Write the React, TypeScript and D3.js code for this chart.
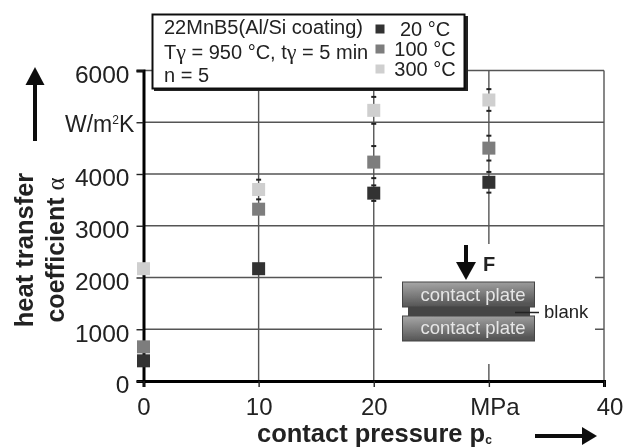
import React, { useEffect, useRef } from 'react';
import * as d3 from 'd3';

const pressures = [0, 10, 20, 30];
const yTicks = [0, 1000, 2000, 3000, 4000, 5000, 6000];
const xTicks = [0, 10, 20, 30, 40];
const xTickLabels = ['0', '10', '20', 'MPa', '40'];

const temps = ['20 °C', '100 °C', '300 °C'];
const colors = ['#333333', '#7d7d7d', '#cfcfcf'];

const alpha20 = [390, 2170, 3630, 3840];
const alpha100 = [660, 3320, 4230, 4500];
const alpha300 = [2170, 3700, 5230, 5430];

const err20 = [0, 0, 150, 200];
const err100 = [0, 0, 310, 240];
const err300 = [0, 190, 260, 210];

const FONT = '"Liberation Sans", Arial, sans-serif';

export default function App() {
  const ref = useRef<SVGSVGElement>(null);

  useEffect(() => {
    const svg = d3.select(ref.current);
    svg.selectAll('*').remove();

    const x = d3.scaleLinear().domain([0, 40]).range([143.5, 604]);
    const y = d3.scaleLinear().domain([0, 6000]).range([381, 70.5]);

    const defs = svg.append('defs');
    defs.append('filter').attr('id', 'soft')
      .attr('x', '-5%').attr('y', '-5%').attr('width', '110%').attr('height', '110%')
      .append('feGaussianBlur').attr('stdDeviation', 0.45);
    const grad = defs.append('linearGradient').attr('id', 'plate')
      .attr('x1', 0).attr('x2', 0.15).attr('y1', 0).attr('y2', 1);
    grad.append('stop').attr('offset', '0%').attr('stop-color', '#a8a8a8');
    grad.append('stop').attr('offset', '100%').attr('stop-color', '#545454');

    const root = svg.append('g').attr('filter', 'url(#soft)').style('font-family', FONT);
    root.append('rect').attr('width', 624).attr('height', 448).attr('fill', '#fff');

    // grid
    root.append('g').selectAll('line').data(yTicks.slice(1)).join('line')
      .attr('x1', x(0)).attr('x2', x(40))
      .attr('y1', d => y(d)).attr('y2', d => y(d))
      .attr('stroke', '#555').attr('stroke-width', 1.4);
    root.append('g').selectAll('line').data(xTicks.slice(1)).join('line')
      .attr('x1', d => x(d)).attr('x2', d => x(d))
      .attr('y1', y(0)).attr('y2', y(6000))
      .attr('stroke', '#555').attr('stroke-width', 1.4);

    // error bars
    const series = [
      { vals: alpha20, errs: err20, color: colors[0] },
      { vals: alpha100, errs: err100, color: colors[1] },
      { vals: alpha300, errs: err300, color: colors[2] },
    ];
    series.forEach(s => {
      const pts = pressures.map((p, i) => ({ p, v: s.vals[i], e: s.errs[i] })).filter(d => d.e > 0);
      [1, -1].forEach(sign => {
        root.append('g').selectAll('path').data(pts).join('path')
          .attr('d', d => {
            const cy = y(d.v + sign * d.e);
            return `M${x(d.p) - 2.5},${cy}H${x(d.p) + 2.5}`;
          })
          .attr('stroke', '#222').attr('stroke-width', 2);
      });
    });

    // axes
    const axisY = d3.axisLeft(y).tickValues(yTicks).tickSize(7)
      .tickFormat(d => (d === 5000 ? '' : String(d)));
    const gy = root.append('g').attr('transform', `translate(${x(0)},0)`).call(axisY);
    gy.select('.domain').attr('stroke', '#000').attr('stroke-width', 3);
    gy.selectAll('.tick line').attr('stroke', '#222').attr('stroke-width', 1.4);
    gy.selectAll('text').attr('x', -14).attr('y', 3).attr('dy', '0.36em')
      .attr('fill', '#222').style('font-family', FONT).style('font-size', '24.5px');

    const axisX = d3.axisBottom(x).tickValues(xTicks).tickSize(6)
      .tickFormat((_, i) => xTickLabels[i]);
    const gx = root.append('g').attr('transform', `translate(0,${y(0)})`).call(axisX);
    gx.select('.domain').attr('stroke', '#000').attr('stroke-width', 3);
    gx.selectAll('.tick line').attr('stroke', '#222').attr('stroke-width', 1.4);
    gx.selectAll('text').attr('y', 17).attr('dy', '0.71em')
      .attr('dx', (_, i) => (i >= 3 ? 5.5 : 0))
      .attr('fill', '#222').style('font-family', FONT).style('font-size', '24px');

    // markers
    const size = 13;
    series.forEach(s => {
      root.append('g').selectAll('rect').data(pressures).join('rect')
        .attr('x', d => x(d) - size / 2)
        .attr('y', (_, i) => y(s.vals[i]) - size / 2)
        .attr('width', size).attr('height', size)
        .attr('fill', s.color);
    });

    // units and titles
    const unit = root.append('text').attr('x', 65).attr('y', 131.5)
      .attr('font-size', 23).attr('fill', '#222');
    unit.append('tspan').text('W/m');
    unit.append('tspan').attr('font-size', 12).attr('dy', -8).text('2');
    unit.append('tspan').attr('dy', 8).text('K');

    root.append('text')
      .attr('transform', 'translate(33,250) rotate(-90)')
      .attr('text-anchor', 'middle').attr('font-size', 25.5).attr('font-weight', 'bold')
      .attr('fill', '#222').text('heat transfer');
    const coef = root.append('text')
      .attr('transform', 'translate(64,250) rotate(-90)')
      .attr('text-anchor', 'middle').attr('font-size', 25).attr('font-weight', 'bold')
      .attr('fill', '#222');
    coef.append('tspan').text('coefficient ');
    coef.append('tspan').attr('font-weight', 'normal').attr('font-family', '"Liberation Serif", serif').text('α');

    const xTitle = root.append('text').attr('x', 257).attr('y', 442)
      .attr('font-size', 25.5).attr('font-weight', 'bold').attr('fill', '#222');
    xTitle.append('tspan').text('contact pressure p');
    xTitle.append('tspan').attr('font-size', 12).attr('dy', 2).text('c');

    const arrow = (x1: number, y1: number, x2: number, y2: number, w: number, head: number, hw: number) => {
      const a = Math.atan2(y2 - y1, x2 - x1);
      const bx = x2 - head * Math.cos(a);
      const by = y2 - head * Math.sin(a);
      root.append('line').attr('x1', x1).attr('y1', y1).attr('x2', bx).attr('y2', by)
        .attr('stroke', '#111').attr('stroke-width', w);
      root.append('path')
        .attr('d', `M${x2},${y2}L${bx - hw * Math.sin(a)},${by + hw * Math.cos(a)}L${bx + hw * Math.sin(a)},${by - hw * Math.cos(a)}Z`)
        .attr('fill', '#111');
    };
    arrow(35, 141, 35, 67, 4, 18, 9.5);
    arrow(535, 436, 597, 436, 4, 15, 9);

    // legend box
    root.append('rect').attr('x', 154).attr('y', 16).attr('width', 314).attr('height', 75).attr('fill', '#222');
    root.append('rect').attr('x', 152.5).attr('y', 14.5).attr('width', 312).attr('height', 74)
      .attr('fill', '#fff').attr('stroke', '#111').attr('stroke-width', 2);
    const info = root.append('g').attr('font-size', 20).attr('fill', '#222');
    info.append('text').attr('x', 164).attr('y', 34).text('22MnB5(Al/Si coating)');
    const l2 = info.append('text').attr('x', 164).attr('y', 59);
    l2.append('tspan').text('T');
    l2.append('tspan').attr('font-family', '"Liberation Serif", serif').attr('font-size', 22).text('γ');
    l2.append('tspan').text(' = 950 °C, t');
    l2.append('tspan').attr('font-family', '"Liberation Serif", serif').attr('font-size', 22).text('γ');
    l2.append('tspan').text(' = 5 min');
    info.append('text').attr('x', 164).attr('y', 82).text('n = 5');

    const legendY = d3.scalePoint<string>().domain(temps).range([29, 69]);
    const legend = root.append('g').selectAll('g').data(temps).join('g');
    legend.append('rect')
      .attr('x', 375.5).attr('y', d => legendY(d)! - 4.5)
      .attr('width', 9).attr('height', 9)
      .attr('fill', (_, i) => colors[i]);
    legend.append('text')
      .attr('x', 425).attr('y', d => legendY(d)! + 6.5)
      .attr('text-anchor', 'middle').attr('font-size', 20).attr('fill', '#222')
      .text(d => d);

    // inset
    root.append('rect').attr('x', 382).attr('y', 244).attr('width', 213).attr('height', 120).attr('fill', '#fff');
    arrow(466, 245, 466, 280, 4, 18, 10);
    root.append('text').attr('x', 483).attr('y', 271)
      .attr('font-size', 20).attr('font-weight', 'bold').attr('fill', '#222').text('F');
    root.append('rect').attr('x', 408).attr('y', 306).attr('width', 122).attr('height', 11).attr('fill', '#444');
    [282, 316].forEach((top, i) => {
      root.append('rect').attr('x', 402.5).attr('y', top).attr('width', 132).attr('height', 25)
        .attr('fill', 'url(#plate)').attr('stroke', '#444').attr('stroke-width', 1);
      root.append('text').attr('x', 473).attr('y', top + (i === 0 ? 19 : 18))
        .attr('text-anchor', 'middle').attr('font-size', 18.5).attr('fill', '#e6e6e6').text('contact plate');
    });
    root.append('line').attr('x1', 515).attr('x2', 539).attr('y1', 312.5).attr('y2', 312.5)
      .attr('stroke', '#222').attr('stroke-width', 1.5);
    root.append('text').attr('x', 544).attr('y', 318).attr('font-size', 18.5).attr('fill', '#222').text('blank');
  }, []);

  return <svg ref={ref} width={624} height={448} style={{ position: 'absolute', left: 0, top: 0 }} />;
}
